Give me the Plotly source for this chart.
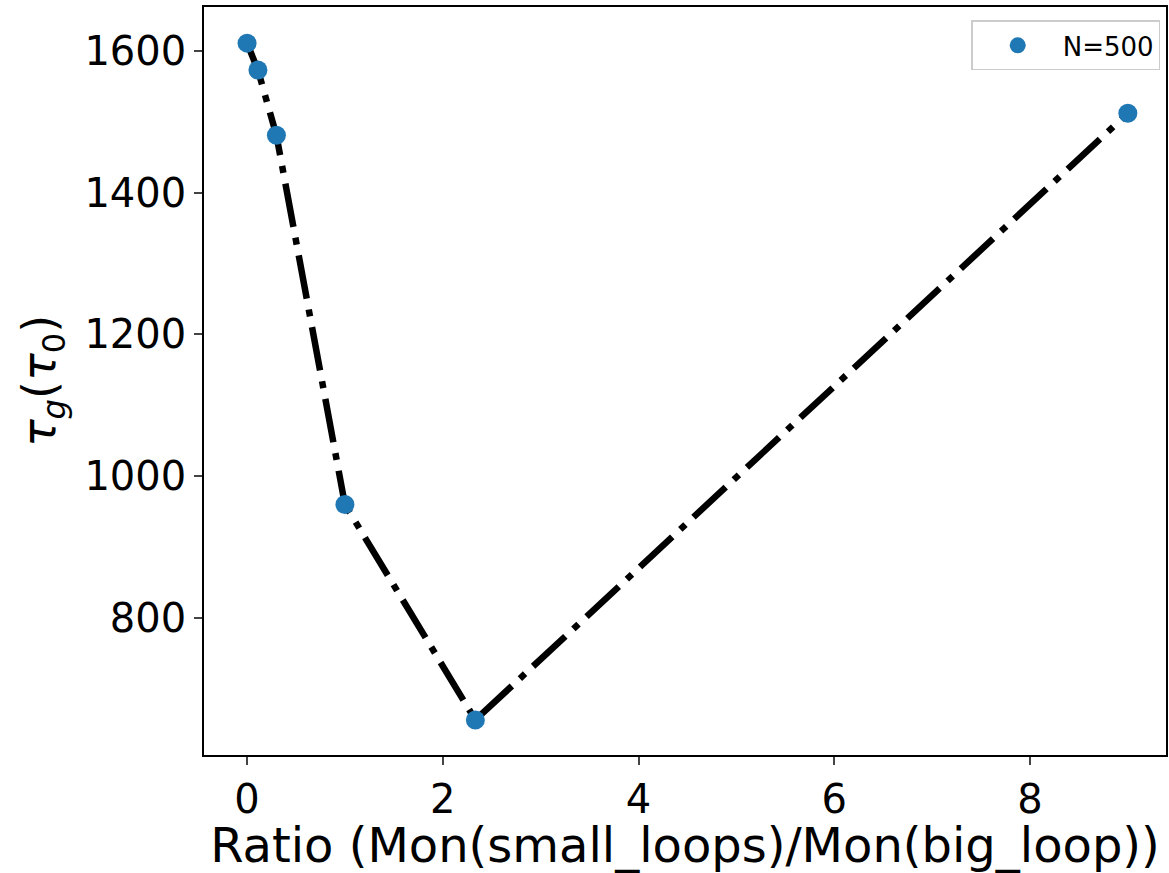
import plotly.graph_objects as go

ratio = [0.0, 0.111, 0.3, 1.0, 2.333, 9.0]
tau_g = [1611, 1573, 1481, 960, 656, 1512]
series_name = "N=500"
x_ticks = [0, 2, 4, 6, 8]
y_ticks = [800, 1000, 1200, 1400, 1600]

fig = go.Figure()
fig.add_trace(go.Scatter(
    x=ratio, y=tau_g, mode="lines", showlegend=False,
    line=dict(color="black", width=6.5, dash="44px,11px,7px,11px"),
))
fig.add_trace(go.Scatter(
    x=ratio, y=tau_g, mode="markers", name=series_name,
    marker=dict(color="#1f77b4", size=19),
    error_y=dict(type="data", array=[0]*len(ratio), visible=True, color="gray", thickness=1.5, width=6),
))

font = "DejaVu Sans, sans-serif"
fig.update_layout(
    width=1169, height=873,
    margin=dict(l=204, r=1, t=7, b=118),
    plot_bgcolor="white", paper_bgcolor="white",
    font=dict(family=font, color="black"),
    showlegend=True,
    legend=dict(x=0.994, y=0.982, xanchor="right", yanchor="top", itemwidth=80,
                bordercolor="#cccccc", borderwidth=1.5, bgcolor="rgba(255,255,255,0.8)",
                font=dict(size=26, family=font)),
    xaxis=dict(range=[-0.44, 9.39], tickvals=x_ticks, ticks="outside", ticklen=8, tickwidth=1.6,
               showline=True, linecolor="black", linewidth=1.6, mirror=True, showgrid=False, zeroline=False,
               tickfont=dict(size=40, family=font),
               title=dict(text="Ratio (Mon(small_loops)/Mon(big_loop))", font=dict(size=48, family=font), standoff=8)),
    yaxis=dict(range=[606.5, 1662], tickvals=y_ticks, ticks="outside", ticklen=8, tickwidth=1.6,
               showline=True, linecolor="black", linewidth=1.6, mirror=True, showgrid=False, zeroline=False,
               tickfont=dict(size=40, family=font),
               title=dict(text="<i>τ</i><sub><i>g</i></sub>(<i>τ</i><sub>0</sub>)", font=dict(size=46, family=font), standoff=14)),
)
fig.write_html("out.html")
